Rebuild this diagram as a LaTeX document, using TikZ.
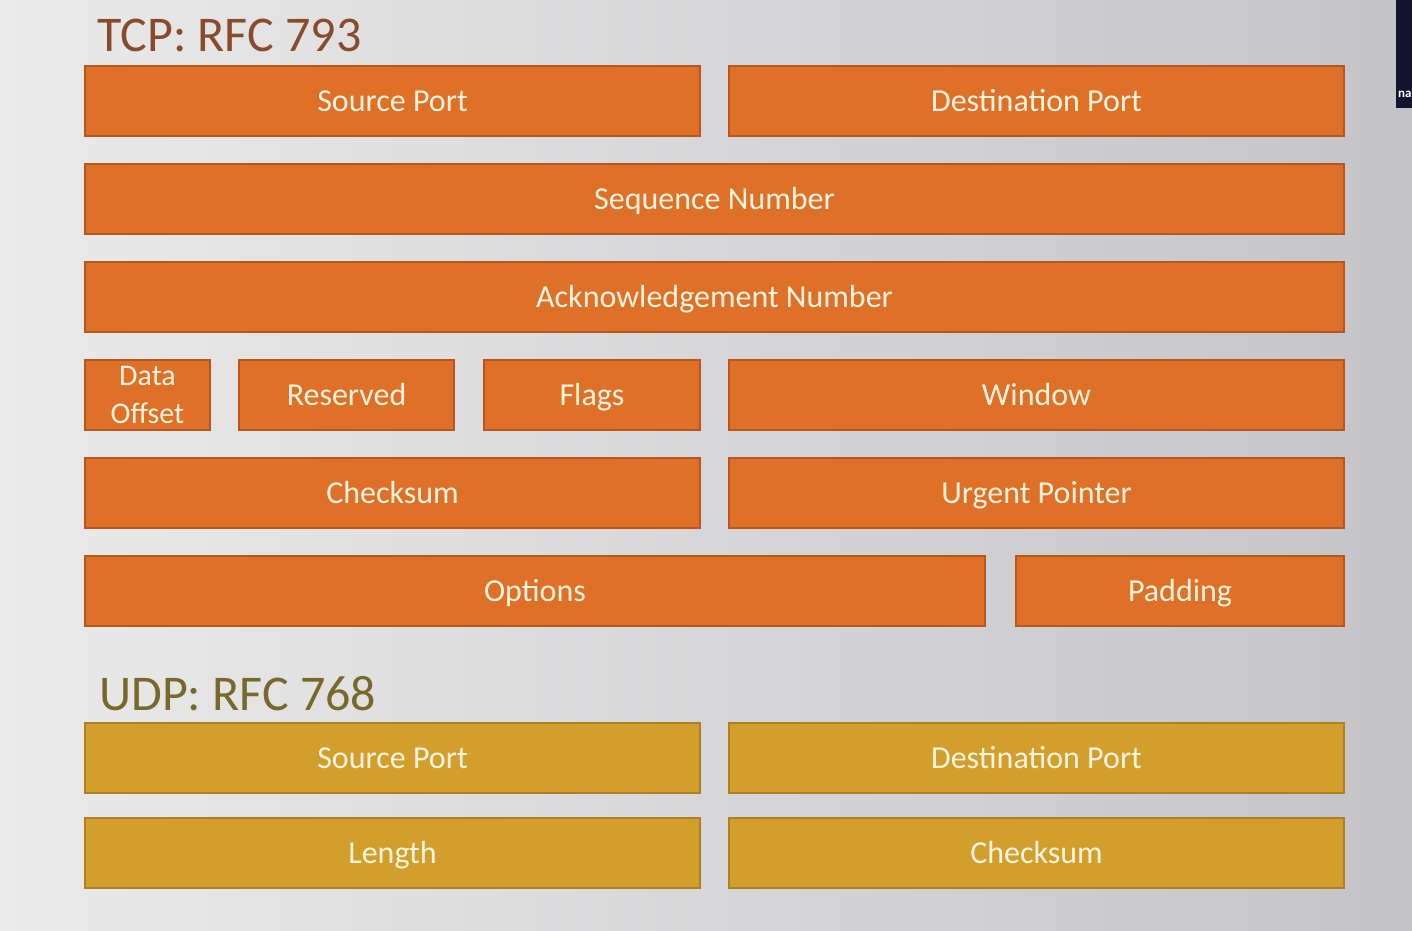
\documentclass[tikz,border=0pt]{standalone}
\usepackage{fontspec}
\setmainfont{Carlito}
\definecolor{bgL}{HTML}{EAEAEA}
\definecolor{bgR}{HTML}{C4C4C8}
\definecolor{tcpfill}{HTML}{DE7027}
\definecolor{tcpedge}{HTML}{B9561E}
\definecolor{udpfill}{HTML}{D29F2D}
\definecolor{udpedge}{HTML}{AD8122}
\definecolor{labelc}{HTML}{FDF3DF}
\definecolor{tcptitle}{HTML}{8A4B2C}
\definecolor{udptitle}{HTML}{76692B}
\definecolor{navy}{HTML}{14142E}
\tikzset{
  field/.style={inner sep=0pt, line width=1.3pt, text=labelc, align=center,
    font=\fontsize{32}{38}\selectfont, text height=20.5pt, text depth=0pt},
  tcpfield/.style={field, draw=tcpedge, fill=tcpfill},
  udpfield/.style={field, draw=udpedge, fill=udpfill},
  title/.style={anchor=base west, inner sep=0pt, font=\fontsize{50}{54}\selectfont}
}
\newcommand\fld[7]{%
  \node[#1, minimum width={(#5-#3)*1pt}, minimum height={(#6-#4)*1pt}]
    (#2) at ({(#3+#5)/2},{(#4+#6)/2}) {#7};}
\begin{document}
\begin{tikzpicture}[x=1pt,y=-1pt]
\shade[left color=bgL, right color=bgR] (0,0) rectangle (1412,930);
\useasboundingbox (0,0) rectangle (1412,930);
% screen artifact top right
\fill[navy] (1396,0) rectangle (1412,108);
\begin{scope}
\clip (1396,0) rectangle (1412,108);
\node[anchor=base west, inner sep=0pt, text=white, font=\fontsize{13}{14}\selectfont\bfseries] (na) at (1398,97) {na};
\end{scope}
% TCP
\node[title, text=tcptitle] (tcpt) at (97,51) {TCP: RFC 793};
\fld{tcpfield}{sp}{85}{66}{700}{136}{Source Port}
\fld{tcpfield}{dp}{729}{66}{1344}{136}{Destination Port}
\fld{tcpfield}{seq}{85}{164}{1344}{234}{Sequence Number}
\fld{tcpfield}{ack}{85}{262}{1344}{332}{Acknowledgement Number}
\fld{tcpfield, font=\fontsize{30}{38}\selectfont, text height=, text depth=}{off}{85}{360}{210}{430}{Data\\Offset}
\fld{tcpfield}{res}{239}{360}{454}{430}{Reserved}
\fld{tcpfield}{flg}{484}{360}{700}{430}{Flags}
\fld{tcpfield}{win}{729}{360}{1344}{430}{Window}
\fld{tcpfield}{chk}{85}{458}{700}{528}{Checksum}
\fld{tcpfield}{urg}{729}{458}{1344}{528}{Urgent Pointer}
\fld{tcpfield}{opt}{85}{556}{985}{626}{Options}
\fld{tcpfield}{pad}{1016}{556}{1344}{626}{Padding}
% UDP
\node[title, text=udptitle] (udpt) at (99,710) {UDP: RFC 768};
\fld{udpfield}{usp}{85}{723}{700}{793}{Source Port}
\fld{udpfield}{udp}{729}{723}{1344}{793}{Destination Port}
\fld{udpfield}{ulen}{85}{818}{700}{888}{Length}
\fld{udpfield}{uchk}{729}{818}{1344}{888}{Checksum}
\end{tikzpicture}
\end{document}
